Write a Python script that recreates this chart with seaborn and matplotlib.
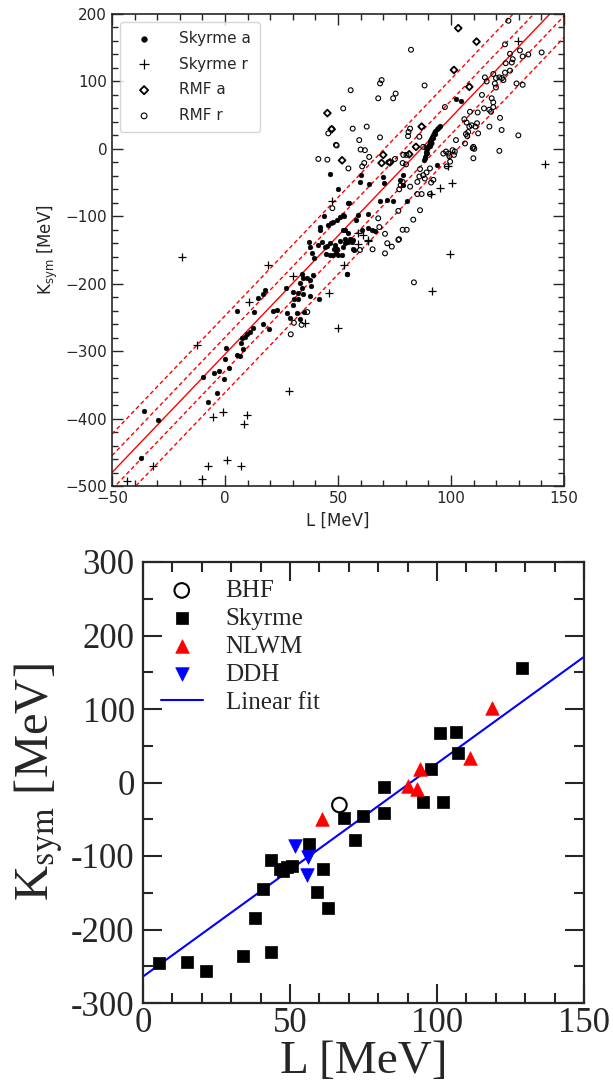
import numpy as np
import pandas as pd
import matplotlib
matplotlib.use("Agg")
import matplotlib.pyplot as plt
import seaborn as sns
from matplotlib.ticker import MultipleLocator

#================================#
# Top panel data: (L, Ksym) in MeV
#================================#
skyrme_a = np.array([
    (-37.3, -458), (-35.8, -389), (-29.8, -402), (-9.9, -338), (-7.4, -375), (-4.9, -333),
    (-3.7, -362), (-2.5, -330), (-0.4, -342), (0.0, -312), (0.4, -296), (1.9, -325),
    (5.2, -305), (6.6, -307), (7.8, -297), (6.9, -288), (7.4, -281), (8.8, -279), (9.9, -275),
    (11.0, -271), (12.5, -266), (5.4, -241), (12.8, -242), (14.7, -221), (16.7, -215),
    (17.7, -210), (16.7, -260), (19.5, -267), (21.1, -240), (23.1, -239),
    (27.6, -243), (28.8, -251), (31.7, -243), (33.2, -253), (35.0, -242),
    (27.0, -207), (29.9, -212), (30.7, -222), (32.4, -222), (30.2, -232), (33.9, -185),
    (34.7, -192), (33.2, -199), (33.9, -207), (32.4, -214), (34.3, -215), (36.1, -192),
    (37.6, -195), (38.0, -204), (39.1, -187), (37.6, -218), (41.5, -222),
    (37.3, -138), (37.6, -145), (38.4, -154), (39.4, -162), (41.3, -143), (42.8, -138),
    (45.0, -144), (44.7, -156), (46.5, -157), (48.2, -149), (50.1, -157), (51.6, -157), (54.1, -185),
    (44.0, -100), (46.9, -110), (49.4, -106), (50.9, -101), (52.3, -98), (42.0, -116),
    (41.9, -120), (53.1, -120), (54.6, -125), (44.2, -146), (46.5, -140), (49.4, -149),
    (50.9, -136), (52.3, -145), (54.6, -138), (45.5, -113), (48.0, -108),
    (46.5, -37), (50.1, -59), (54.3, -81),
    (60.0, -39), (59.7, -49), (63.9, -52), (70.0, -41), (70.4, -50), (78.9, -39), (77.4, -46),
    (78.9, -54), (93.6, -24), (68.6, -78), (74.5, -78), (71.5, -76), (80.7, -78), (63.4, -96),
    (59.0, -98), (57.8, -106), (52.7, -100), (54.9, -81), (52.3, -120), (63.4, -118),
    (64.9, -120), (66.4, -122), (60.5, -120), (53.1, -133), (55.3, -133), (56.8, -135),
    (48.7, -143), (57.0, -150), (49.0, -154), (53.1, -140), (49.1, -149), (47.9, -157),
    (56.8, -149), (56.0, -138), (53.9, -185), (102.2, 73.5), (104.3, 71),
    (88.0, -17), (88.4, -12), (88.8, -8), (89.1, -4), (89.5, 0), (89.9, 3), (90.2, 6),
    (90.5, 9), (90.9, 12), (91.3, 15), (91.7, 18), (92.1, 21), (92.6, 24), (93.1, 27),
    (93.6, 29), (94.1, 31), (94.6, 33), (95.2, 34), (88.6, -14), (89.4, -6), (90.6, 4),
    (91.2, 10), (92.0, 16), (93.0, 22),
])

skyrme_r = np.array([
    (-19.2, -161), (19.2, -172), (30.2, -188), (10.8, -227), (46.2, -214), (49.9, -266),
    (35.4, -258), (-12.5, -291), (-5.2, -398), (-0.8, -390), (9.6, -394), (8.4, -408),
    (28.5, -359), (-32.0, -471), (-43.2, -492), (-7.7, -471), (0.8, -461), (7.1, -471),
    (-10.3, -489), (99.6, -156), (91.7, -211), (59.0, -141), (63.4, -137), (52.7, -172),
    (141.6, -23), (129.5, 160), (47.4, -78), (100.3, -50), (95.1, -58), (91.0, -67),
    (98.8, -25), (61.2, -128), (59.0, -125), (63.4, -135),
])

rmf_a = np.array([
    (45.3, 53), (47.2, 29), (103.2, 179), (111.3, 159), (101.3, 117), (108.1, 92),
    (87.0, 33), (84.5, 3), (81.5, -8), (70.0, -9), (69.3, -21), (73.0, -20), (51.8, -17),
])

rmf_r = np.array([
    (125.4, 190), (82.3, 147), (69.3, 102), (68.6, 97), (75.5, 82), (74.4, 75), (67.8, 75),
    (55.6, 87), (52.3, 60), (88.3, 94), (97.3, 62), (45.7, 23), (49.4, 5), (41.3, -15),
    (45.3, -16), (54.6, -29), (47.5, -88), (47.2, 30),
    (123.9, 155), (126.1, 141), (127.3, 133), (126.9, 128), (124.2, 127), (130.5, 146),
    (134.2, 140), (131.7, 137), (140.1, 143),
    (115.0, 106), (118.7, 111), (119.9, 105), (121.4, 106), (122.6, 105), (123.9, 113),
    (126.1, 116), (123.2, 102), (115.8, 100), (119.9, 91), (119.4, 97), (129.0, 97),
    (131.7, 95), (113.7, 80), (118.0, 75), (118.7, 69),
    (108.4, 55), (111.8, 54), (114.6, 60), (116.9, 58), (118.7, 62), (117.7, 55), (121.7, 46),
    (122.4, 28), (117.0, 33), (129.8, 20), (121.4, -3), (109.9, 3), (110.3, 0), (109.9, -14),
    (112.0, 23), (105.9, 44), (106.9, 39), (108.1, 33), (109.1, 35), (110.8, 33), (111.5, 38),
    (106.6, 22), (107.2, 19), (107.6, 25),
    (81.9, 30), (81.2, 25), (81.0, 19), (86.0, 18), (91.4, 8), (89.2, 1), (87.7, 3),
    (62.7, 33), (68.6, 17), (56.5, 30), (49.1, 6), (59.4, 13), (60.0, -1), (61.9, -2),
    (63.8, -12), (61.6, -21), (60.7, -26), (72.3, -20), (75.2, -15), (78.9, -9), (80.3, -9),
    (78.6, -21), (80.1, -23), (86.3, -30), (90.7, -29),
    (96.6, -7), (97.8, -4), (98.8, -7), (99.3, -11), (100.7, -2), (101.3, -9), (101.7, -4),
    (102.2, 13), (106.2, 8), (109.6, 1), (99.6, -19), (98.1, -26),
    (89.2, -35), (87.7, -39), (86.0, -41), (92.2, -46), (91.2, -50), (88.4, -44), (85.1, -49),
    (81.9, -56), (78.6, -49), (77.1, -60), (77.7, -54), (85.1, -67), (87.0, -67), (90.7, -67),
    (86.3, -91), (83.3, -105), (80.4, -120), (78.6, -120), (77.0, -134), (73.8, -145),
    (70.8, -155), (71.8, -140), (65.3, -149), (70.8, -126), (68.3, -116), (67.8, -103),
    (76.7, -92), (83.6, -198), (59.7, -150), (76.7, -135),
    (36.4, -242), (30.5, -258), (33.9, -261), (29.1, -275),
])

# red correlation line and its bands
top_fit_slope = 3.51
top_fit_intercept = -304.5
top_band_offsets = [-57, -25, 25, 57]

#================================#
# Bottom panel data
#================================#
bhf_L = [66.8]
bhf_K = [-30.6]
skyrme_L = [5.5, 15.1, 21.3, 33.9, 43.4, 38.2, 40.7, 43.4, 46.5, 47.5, 49.0, 50.8, 56.5,
            61.3, 59.3, 63.0, 68.4, 72.1, 74.9, 82.1, 82.1, 95.1, 101.9, 97.9, 101.0, 106.5,
            107.3, 128.9]
skyrme_K = [-246, -244, -256, -236, -231, -185, -145, -105, -118, -121, -115, -114, -84,
            -118, -149, -171, -48, -78, -46, -6.5, -42, -26, -27, 18, 68, 69, 40, 156]
nlwm_L = [60.8, 90.2, 93.3, 94.2, 111.2, 118.8]
nlwm_K = [-50, -5, -9, 19, 34, 102]
ddh_L = [51.7, 56.0, 55.7]
ddh_K = [-87, -102, -126]
fit_slope = 2.9
fit_intercept = -264

#================================#
# Figure
#================================#
sns.set_style("ticks")
plt.rcParams['font.family'] = ['DejaVu Sans']

fig = plt.figure(figsize=(6.13, 10.82), dpi=100)
W, H = 613, 1082
ax1 = fig.add_axes([112 / W, 1 - 486 / H, 452 / W, 472 / H])
ax2 = fig.add_axes([143 / W, 1 - 1003 / H, 441 / W, 441 / H])

# --- top panel ---
L_line = np.array([-50, 150])
ax1.plot(L_line, top_fit_slope * L_line + top_fit_intercept, color='red', lw=1.0)
for off in top_band_offsets:
    ax1.plot(L_line, top_fit_slope * L_line + top_fit_intercept + off,
             color='red', lw=1.0, ls=(0, (3, 2)))

df_sa = pd.DataFrame(skyrme_a, columns=['L', 'K'])
df_sr = pd.DataFrame(skyrme_r, columns=['L', 'K'])
df_ra = pd.DataFrame(rmf_a, columns=['L', 'K'])
df_rr = pd.DataFrame(rmf_r, columns=['L', 'K'])

sns.scatterplot(data=df_sa, x='L', y='K', ax=ax1, marker='o', s=12, color='black',
                edgecolor='black', linewidth=0.3, label='Skyrme a', zorder=3)
sns.scatterplot(data=df_sr, x='L', y='K', ax=ax1, marker='+', s=30, color='black',
                linewidth=0.9, label='Skyrme r', zorder=3)
sns.scatterplot(data=df_ra, x='L', y='K', ax=ax1, marker='D', s=12, facecolor='none',
                edgecolor='black', linewidth=1.3, label='RMF a', zorder=3)
sns.scatterplot(data=df_rr, x='L', y='K', ax=ax1, marker='o', s=12, facecolor='none',
                edgecolor='black', linewidth=0.8, label='RMF r', zorder=3)

ax1.set_xlim(-50, 150)
ax1.set_ylim(-500, 200)
ax1.xaxis.set_major_locator(MultipleLocator(50))
ax1.xaxis.set_minor_locator(MultipleLocator(10))
ax1.yaxis.set_major_locator(MultipleLocator(100))
ax1.yaxis.set_minor_locator(MultipleLocator(20))
ax1.tick_params(which='both', direction='in', top=True, right=True, labelsize=11, width=1)
ax1.tick_params(which='major', length=8)
ax1.tick_params(which='minor', length=4)
for sp in ax1.spines.values():
    sp.set_linewidth(1.2)
ax1.set_xlabel('L [MeV]', fontsize=12)
ax1.set_ylabel(r'K$_{\rm sym}$ [MeV]', fontsize=12)
ax1.legend(loc='upper left', fontsize=11, handletextpad=1.3, borderpad=0.6,
           labelspacing=0.7, markerscale=1.2)

# --- bottom panel ---
serif = ['Liberation Serif', 'DejaVu Serif']
L_fit = np.array([0, 150])
sns.lineplot(x=L_fit, y=fit_slope * L_fit + fit_intercept, ax=ax2, color='blue', lw=1.5,
             label='Linear fit', zorder=2)
sns.scatterplot(x=bhf_L, y=bhf_K, ax=ax2, marker='o', s=110, facecolor='none',
                edgecolor='black', linewidth=1.5, label='BHF', zorder=3)
sns.scatterplot(x=skyrme_L, y=skyrme_K, ax=ax2, marker='s', s=85, color='black',
                edgecolor='black', linewidth=0.5, label='Skyrme', zorder=3)
sns.scatterplot(x=nlwm_L, y=nlwm_K, ax=ax2, marker='^', s=95, color='red',
                edgecolor='red', linewidth=0.5, label='NLWM', zorder=3)
sns.scatterplot(x=ddh_L, y=ddh_K, ax=ax2, marker='v', s=95, color='blue',
                edgecolor='blue', linewidth=0.5, label='DDH', zorder=3)

ax2.set_xlim(0, 150)
ax2.set_ylim(-300, 300)
xt = [0, 50, 100, 150]
yt = [-300, -200, -100, 0, 100, 200, 300]
ax2.set_xticks(xt, [str(v) for v in xt], fontfamily=serif, fontsize=25)
ax2.set_yticks(yt, [str(v) for v in yt], fontfamily=serif, fontsize=25)
ax2.xaxis.set_minor_locator(MultipleLocator(10))
ax2.yaxis.set_minor_locator(MultipleLocator(50))
ax2.tick_params(which='both', direction='in', top=True, right=True, width=1.5)
ax2.tick_params(which='major', length=14)
ax2.tick_params(which='minor', length=7)
ax2.tick_params(axis='x', which='major', pad=3)
ax2.tick_params(axis='y', which='major', pad=6)
for sp in ax2.spines.values():
    sp.set_linewidth(1.6)
ax2.set_xlabel('L [MeV]', fontfamily=serif, fontsize=34, labelpad=0)
ax2.set_ylabel(r'K$_{\rm sym}$ [MeV]', fontfamily=serif, fontsize=35,
               math_fontfamily='stix', labelpad=4)

handles, labels = ax2.get_legend_handles_labels()
order = [labels.index(n) for n in ['BHF', 'Skyrme', 'NLWM', 'DDH', 'Linear fit']]
ax2.legend([handles[i] for i in order], [labels[i] for i in order], loc='upper left',
           frameon=False, prop={'family': serif, 'size': 18}, handlelength=1.7,
           handletextpad=0.9, labelspacing=0.22, borderaxespad=0.3)

plt.savefig('out.png', dpi=100)
